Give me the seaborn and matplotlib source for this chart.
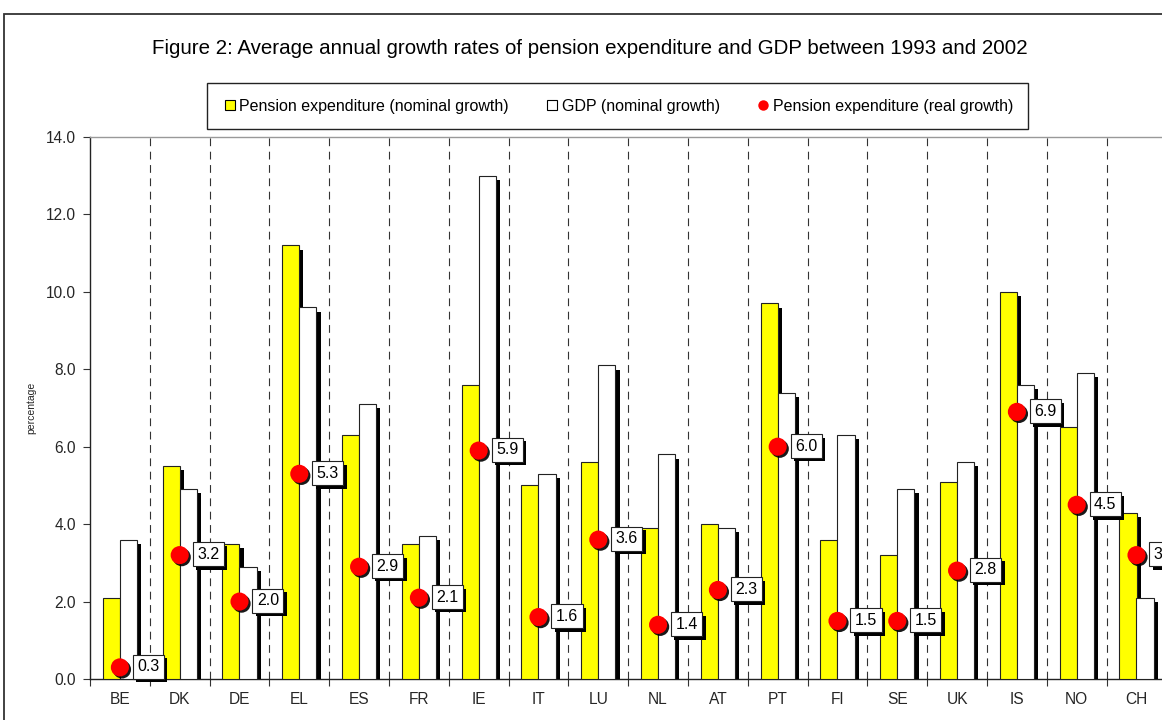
import numpy as np
import pandas as pd
import matplotlib
matplotlib.use('Agg')
import matplotlib.pyplot as plt
import matplotlib.patheffects as pe
from matplotlib.lines import Line2D
from matplotlib.patches import Rectangle
import seaborn as sns

# values
countries = ['BE', 'DK', 'DE', 'EL', 'ES', 'FR', 'IE', 'IT', 'LU',
             'NL', 'AT', 'PT', 'FI', 'SE', 'UK', 'IS', 'NO', 'CH']
pension_nominal = [2.1, 5.5, 3.5, 11.2, 6.3, 3.5, 7.6, 5.0, 5.6,
                   3.9, 4.0, 9.7, 3.6, 3.2, 5.1, 10.0, 6.5, 4.3]
gdp_nominal = [3.6, 4.9, 2.9, 9.6, 7.1, 3.7, 13.0, 5.3, 8.1,
               5.8, 3.9, 7.4, 6.3, 4.9, 5.6, 7.6, 7.9, 2.1]
pension_real = [0.3, 3.2, 2.0, 5.3, 2.9, 2.1, 5.9, 1.6, 3.6,
                1.4, 2.3, 6.0, 1.5, 1.5, 2.8, 6.9, 4.5, 3.2]
series_names = ['Pension expenditure (nominal growth)', 'GDP (nominal growth)',
                'Pension expenditure (real growth)']

df = pd.DataFrame({
    'country': countries * 2,
    'value': pension_nominal + gdp_nominal,
    'series': [series_names[0]] * len(countries) + [series_names[1]] * len(countries),
})

sns.set_style('white')
plt.rcParams['font.family'] = ['Liberation Sans', 'DejaVu Sans']
plt.rcParams['text.color'] = 'black'

fig = plt.figure(figsize=(11.62, 7.2), dpi=100)
ax = fig.add_axes([90 / 1162, 1 - 679 / 720, 18 * 59.8 / 1162, (679 - 137) / 720])

sns.barplot(data=df, x='country', y='value', hue='series', order=countries,
            palette={series_names[0]: '#FFFF00', series_names[1]: 'white'},
            width=0.57, saturation=1, edgecolor='#222222', linewidth=0.8,
            legend=False, ax=ax, zorder=3)

shadow = [pe.SimplePatchShadow(offset=(3, -3), shadow_rgbFace='black', alpha=1), pe.Normal()]
for p in ax.patches:
    p.set_path_effects(shadow)

# dashed separators between countries
for b in np.arange(0.5, len(countries), 1.0):
    ax.axvline(b, color='#333333', lw=0.8, linestyle=(0, (7, 5)), zorder=1)

# real growth dots with boxed labels
pos = np.arange(len(countries))
sns.scatterplot(x=pos, y=pension_real, color='#FF0000', s=170, linewidth=0,
                ax=ax, zorder=5, legend=False)
ax.collections[-1].set_path_effects(
    [pe.SimplePatchShadow(offset=(1.5, -1.5), shadow_rgbFace='black', alpha=0.9), pe.Normal()])

for x, v in zip(pos, pension_real):
    t = ax.annotate(f'{v:.1f}', (x, v), xytext=(12.5, 0.5), textcoords='offset points',
                    ha='left', va='center', fontsize=11.5, zorder=6, annotation_clip=False,
                    bbox=dict(boxstyle='square,pad=0.28', fc='white', ec='#222222', lw=0.8))
    t.get_bbox_patch().set_path_effects(
        [pe.SimplePatchShadow(offset=(2.5, -2.5), shadow_rgbFace='black', alpha=1), pe.Normal()])

ax.set_xlim(-0.5, len(countries) - 0.5)
ax.set_ylim(0, 14)
ax.set_yticks(np.arange(0, 14.1, 2))
ax.set_yticklabels([f'{v:.1f}' for v in np.arange(0, 14.1, 2)], fontsize=11.2)
ax.set_xticks(pos)
ax.set_xticklabels(countries, fontsize=11.2)
ax.set_xticks(np.arange(-0.5, len(countries), 1.0), minor=True)
ax.tick_params(axis='x', which='major', length=0, pad=9)
ax.tick_params(axis='x', which='minor', length=5, width=0.8, color='#333333', direction='out', bottom=True)
ax.tick_params(axis='y', length=5, width=0.8, color='#333333', direction='out', left=True, pad=5)
ax.set_xlabel('')
ax.set_ylabel('percentage', fontsize=7.5)
ax.yaxis.set_label_coords(-54 / (18 * 59.8), 0.5)

for side in ['left', 'bottom']:
    ax.spines[side].set_color('#222222')
    ax.spines[side].set_linewidth(1.0)
ax.spines['top'].set_color('#999999')
ax.spines['top'].set_linewidth(1.0)
ax.spines['right'].set_visible(False)

# title, legend and outer border
fig.text(590 / 1162, 1 - 48 / 720, 'Figure 2: Average annual growth rates of pension expenditure and GDP between 1993 and 2002',
         ha='center', va='center', fontsize=14.8)

handles = [
    Line2D([], [], marker='s', linestyle='', markersize=6.5, markerfacecolor='#FFFF00', markeredgecolor='black', markeredgewidth=0.8),
    Line2D([], [], marker='s', linestyle='', markersize=6.5, markerfacecolor='white', markeredgecolor='black', markeredgewidth=0.8),
    Line2D([], [], marker='o', linestyle='', markersize=7.5, markerfacecolor='#FF0000', markeredgewidth=0),
]
fig.legend(handles, series_names, loc='center', bbox_to_anchor=(619 / 1162, 1 - 106 / 720),
           ncol=3, frameon=False, fontsize=11.5, handlelength=0.6, handletextpad=0.3,
           columnspacing=2.4)
fig.add_artist(Rectangle((207 / 1162, 1 - 129 / 720), 821 / 1162, 46 / 720,
                         transform=fig.transFigure, fill=False, ec='#222222', lw=1.0))
fig.add_artist(Rectangle((4 / 1162, -0.1), 1.5, 1 - 14 / 720 + 0.1,
                         transform=fig.transFigure, fill=False, ec='#333333', lw=1.3))

fig.savefig('out.png', dpi=100)
